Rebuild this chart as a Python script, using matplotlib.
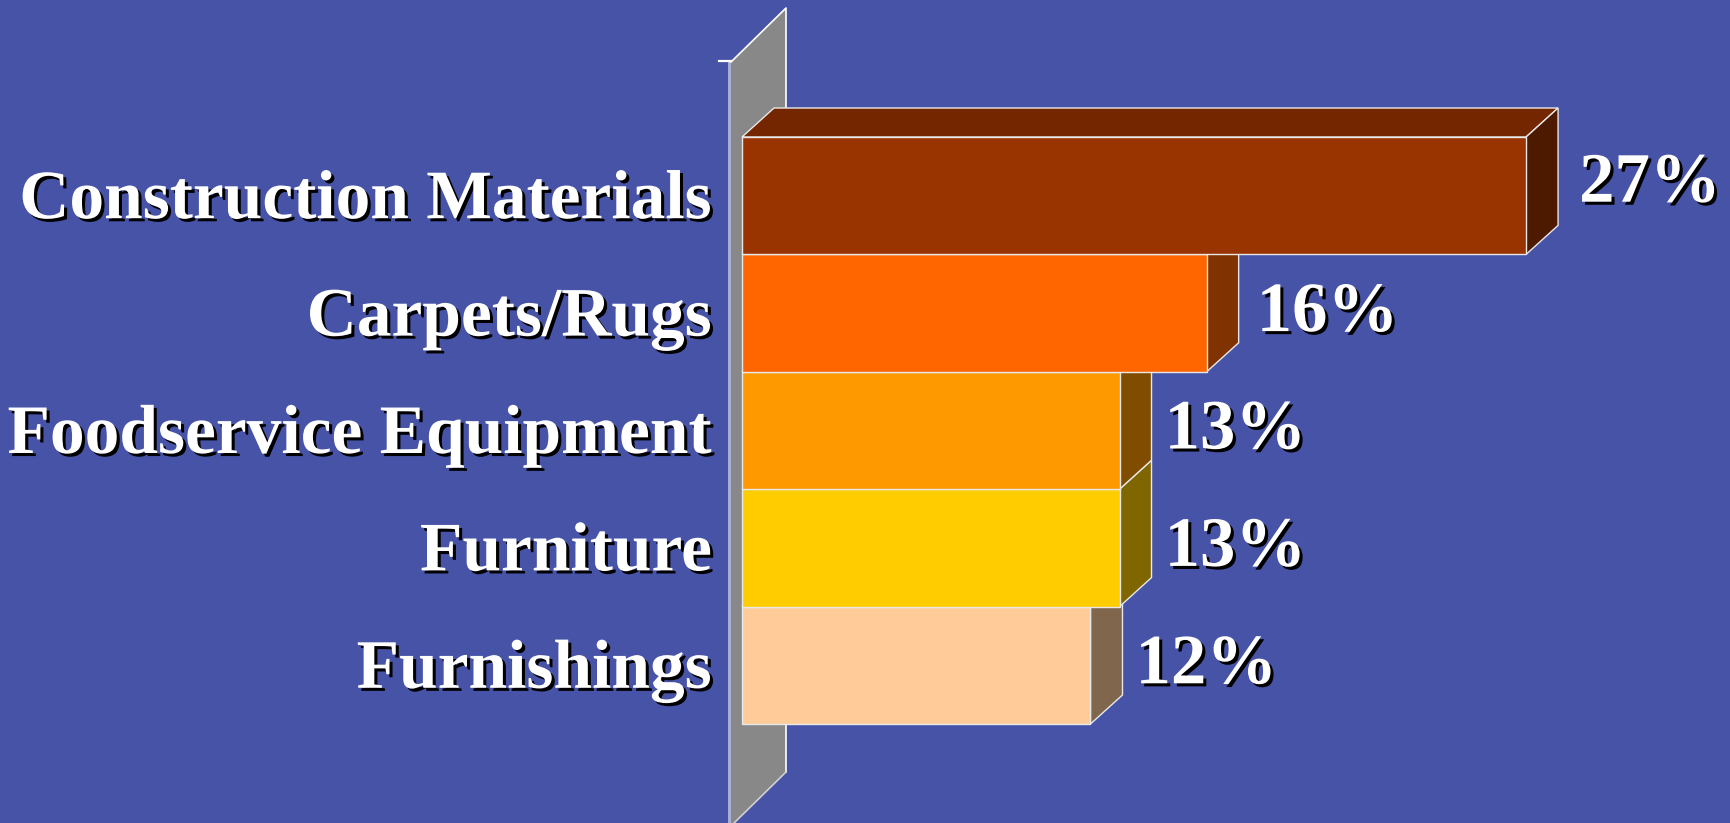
import matplotlib
matplotlib.use("Agg")
import matplotlib.pyplot as plt
from matplotlib.patches import Polygon
from matplotlib.lines import Line2D
import matplotlib.patheffects as pe
from matplotlib.colors import to_rgb

# ---- data -------------------------------------------------------------
categories = ["Construction Materials", "Carpets/Rugs", "Foodservice Equipment",
              "Furniture", "Furnishings"]
shares = [27, 16, 13, 13, 12]
value_labels = [f"{v}%" for v in shares]
front_colors = ["#993300", "#FF6600", "#FF9900", "#FFCC00", "#FFCC99"]

# ---- style ------------------------------------------------------------
BG = "#4753A7"
WALL = "#888888"
EDGE = "#E8E8E8"
W, H, DPI = 1730, 823, 100
SERIF = ["Liberation Serif", "DejaVu Serif"]
# pixel nudges (right, up) for the value labels
label_nudge = [(8, 12), (5, 0), (0, 0), (0, 0), (0, 0)]

fig = plt.figure(figsize=(W / DPI, H / DPI), dpi=DPI, facecolor=BG)

# plot area in pixels (front faces of the bars)
left_px, top_px, bottom_px = 742, 137, 724
px_per_pct = 29.04
xmax = 30
ax = fig.add_axes([left_px / W, (H - bottom_px) / H,
                   xmax * px_per_pct / W, (bottom_px - top_px) / H])
ax.set_xlim(0, xmax)
ax.set_ylim(len(categories) - 0.5, -0.5)
ax.axis("off")
ax.set_facecolor("none")

fig.canvas.draw()
bbox = ax.get_window_extent()
sx = (ax.get_xlim()[1] - ax.get_xlim()[0]) / bbox.width
sy = (ax.get_ylim()[0] - ax.get_ylim()[1]) / bbox.height


def off(dx, dy):
    """pixel offset (right, up) -> data offset"""
    return dx * sx, -dy * sy


def shade(c, f):
    r, g, b = to_rgb(c)
    return (r * f, g * f, b * f)


# ---- side wall --------------------------------------------------------
y_top = -0.5 + off(0, 75)[1]
y_bot = len(categories) - 0.5 + off(0, -102)[1]
xf = off(-11, 0)[0]
wdx, wdy = off(55, 54)
wall = [(xf, y_top), (xf + wdx, y_top + wdy), (xf + wdx, y_bot + wdy), (xf, y_bot)]
ax.add_patch(Polygon(wall, closed=True, facecolor=WALL, edgecolor="none",
                     clip_on=False, zorder=1))
strip_w = off(-3, 0)[0]
ax.add_patch(Polygon([(xf + strip_w, y_top), (xf, y_top), (xf, y_bot), (xf + strip_w, y_bot)],
                     closed=True, facecolor="#A9AED3", edgecolor="none",
                     clip_on=False, zorder=1))
ax.add_line(Line2D([xf, xf + wdx, xf + wdx], [y_top, y_top + wdy, y_bot + wdy],
                   color="white", lw=1.2, clip_on=False, zorder=1.5))
ax.add_line(Line2D([xf + wdx, xf], [y_bot + wdy, y_bot],
                   color="#D0D0D0", lw=1.2, clip_on=False, zorder=1.5))
# axis tick at the top of the wall
tick_y = y_top + off(0, 1)[1]
ax.add_line(Line2D([xf + off(-12, 0)[0], xf], [tick_y, tick_y],
                   color="white", lw=1.6, clip_on=False, zorder=1.5))

# ---- 3D bars (drawn bottom to top so upper fronts cover lower tops) ----
ddx, ddy = off(32, 29)
for i in reversed(range(len(categories))):
    v = shares[i]
    c = front_colors[i]
    y0, y1 = i - 0.5, i + 0.5
    z = 2 + (len(categories) - i) * 0.1
    top = [(0, y0), (v, y0), (v + ddx, y0 + ddy), (ddx, y0 + ddy)]
    side = [(v, y0), (v + ddx, y0 + ddy), (v + ddx, y1 + ddy), (v, y1)]
    front = [(0, y0), (v, y0), (v, y1), (0, y1)]
    for poly, col in ((top, shade(c, 0.75)), (side, shade(c, 0.5)), (front, c)):
        ax.add_patch(Polygon(poly, closed=True, facecolor=col, edgecolor=EDGE,
                             lw=1.0, joinstyle="miter", clip_on=False, zorder=z))

# ---- text ---------------------------------------------------------------
shadow = [pe.withSimplePatchShadow(offset=(2.2, -2.2), shadow_rgbFace="black", alpha=1.0)]
for i, name in enumerate(categories):
    ax.annotate(name, xy=(0, i), xytext=(-30, -22.5), textcoords="offset pixels",
                ha="right", va="baseline", color="white", fontsize=50,
                fontweight="bold", family=SERIF, path_effects=shadow,
                annotation_clip=False, zorder=10)
for i, (v, lab) in enumerate(zip(shares, value_labels)):
    nx, ny = label_nudge[i]
    ax.annotate(lab, xy=(v, i), xytext=(45 + nx, -18 + ny), textcoords="offset pixels",
                ha="left", va="baseline", color="white", fontsize=51,
                fontweight="bold", family=SERIF, path_effects=shadow,
                annotation_clip=False, zorder=10)

fig.savefig("out.png", dpi=DPI, facecolor=BG)
